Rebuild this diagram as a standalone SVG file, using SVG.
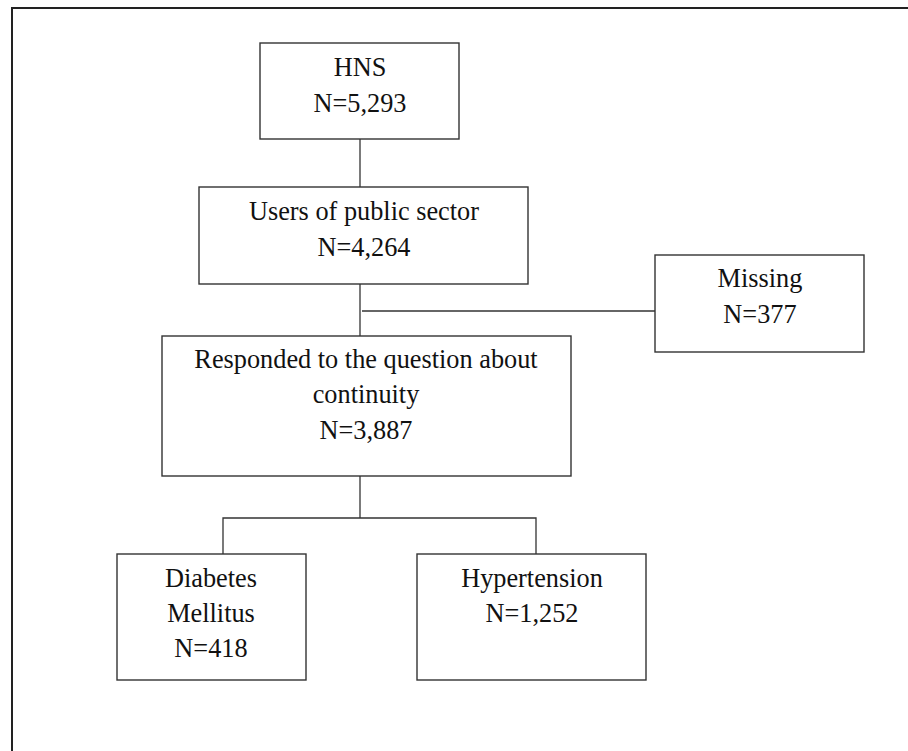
<svg xmlns="http://www.w3.org/2000/svg" width="908" height="751" viewBox="0 0 908 751">
<style>
.box{fill:#fff;stroke:#333;stroke-width:1.4}
.ln{fill:none;stroke:#333;stroke-width:1.3}
.frame{fill:none;stroke:#222;stroke-width:2}
text{font-family:"Liberation Serif","Times New Roman",serif;font-size:26.3px;fill:#111;text-anchor:middle}
</style>
<rect width="908" height="751" fill="#fff"/>
<path class="frame" d="M12,751 V8 H908"/>
<g id="connectors">
<path class="ln" d="M360,139 V187"/>
<path class="ln" d="M360,284 V336"/>
<path class="ln" d="M362,311 H655"/>
<path class="ln" d="M360,476 V518"/>
<path class="ln" d="M223,554 V518 H536 V554"/>
</g>
<g id="hns">
<rect class="box" x="260" y="43" width="199" height="96"/>
<text x="360" y="76">HNS</text>
<text x="360" y="112">N=5,293</text>
</g>
<g id="users">
<rect class="box" x="199" y="187" width="329" height="97"/>
<text x="364" y="220">Users of public sector</text>
<text x="364" y="256">N=4,264</text>
</g>
<g id="missing">
<rect class="box" x="655" y="255" width="209" height="97"/>
<text x="760" y="287">Missing</text>
<text x="760" y="323">N=377</text>
</g>
<g id="responded">
<rect class="box" x="162" y="336" width="409" height="140"/>
<text x="366" y="368">Responded to the question about</text>
<text x="366" y="403">continuity</text>
<text x="366" y="439">N=3,887</text>
</g>
<g id="diabetes">
<rect class="box" x="117" y="554" width="189" height="126"/>
<text x="211" y="587">Diabetes</text>
<text x="211" y="622">Mellitus</text>
<text x="211" y="657">N=418</text>
</g>
<g id="hypertension">
<rect class="box" x="417" y="554" width="229" height="126"/>
<text x="532" y="587">Hypertension</text>
<text x="532" y="622">N=1,252</text>
</g>
</svg>
